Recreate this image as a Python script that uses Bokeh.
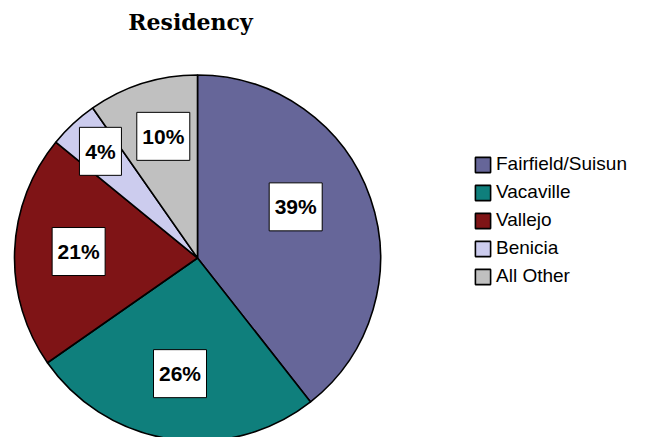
import math
from bokeh.plotting import figure
from bokeh.models import Range1d, ColumnDataSource, Legend, LegendItem
from bokeh.core.properties import value
from bokeh.embed import file_html
from bokeh.resources import INLINE

# ---- data ----
title_text = "Residency"
categories = ["Fairfield/Suisun", "Vacaville", "Vallejo", "Benicia", "All Other"]
shares = [39.4, 25.9, 20.6, 4.4, 9.7]
colors = ["#666699", "#0F7F7C", "#7F1416", "#CCCCEE", "#C0C0C0"]

# ---- layout (screen px of the page) ----
W, H = 629, 437
cx_s, cy_s, R = 197, 257.5, 183
label_rfrac = [0.6, 0.65, 0.65, 0.78, 0.68]
label_ashift = [-7.5, 0, 0, 0, 1.5]  # degrees


def Y(sy):
    return 445 - sy


p = figure(width=W, height=H, output_backend="svg", toolbar_location=None,
           x_range=Range1d(0, W), y_range=Range1d(445 - H, 445),
           min_border=0, min_border_left=0, min_border_right=0,
           min_border_top=0, min_border_bottom=0)
p.axis.visible = False
p.grid.visible = False
p.outline_line_color = None
p.background_fill_color = "white"

total = sum(shares)
starts, ends, mids = [], [], []
cum = 0.0
for s in shares:
    f0 = cum / total
    cum += s
    f1 = cum / total
    starts.append(math.pi / 2 - 2 * math.pi * f0)
    ends.append(math.pi / 2 - 2 * math.pi * f1)
    mids.append(2 * math.pi * (f0 + f1) / 2)  # clockwise from top

src = ColumnDataSource(dict(cat=categories, start=starts, end=ends, color=colors))
wedges = p.wedge(x=cx_s, y=Y(cy_s), radius=R, start_angle="start", end_angle="end",
                 direction="clock", fill_color="color", line_color="black",
                 line_width=1.6, source=src)

# labels
labels = ["%d%%" % round(s / total * 100) for s in shares]
angs = [a + math.radians(d) for a, d in zip(mids, label_ashift)]
lx = [cx_s + R * rf * math.sin(a) for rf, a in zip(label_rfrac, angs)]
ly = [Y(cy_s) + R * rf * math.cos(a) + 2 for rf, a in zip(label_rfrac, angs)]
bw = [42 if len(t) < 3 else 53 for t in labels]
lsrc = ColumnDataSource(dict(x=lx, y=ly, t=labels, w=bw))
p.rect(x="x", y="y", width="w", height=48, width_units="screen", height_units="screen",
       fill_color="white", line_color="black", line_width=1, source=lsrc)
p.text(x="x", y="y", text="t", text_align="center", text_baseline="middle",
       text_font=value("Liberation Sans"), text_font_style="bold",
       text_font_size="21px", text_color="black", source=lsrc)

# title
p.text(x=[190], y=[Y(21)], text=[title_text], text_align="center",
       text_baseline="alphabetic", text_font=value("DejaVu Serif"),
       text_font_style="bold", text_font_size="22px", text_color="black")

# legend
items = [LegendItem(label=c, renderers=[wedges], index=i) for i, c in enumerate(categories)]
legend = Legend(items=items, location=(473, 150), orientation="vertical",
                glyph_width=19, glyph_height=19, label_height=19, spacing=6,
                label_standoff=4, padding=0, margin=0,
                label_text_font="Liberation Sans", label_text_font_size="19px",
                label_text_color="black", border_line_color=None,
                background_fill_alpha=0)
p.add_layout(legend, "center")

open("out.html", "w").write(file_html(p, INLINE))
